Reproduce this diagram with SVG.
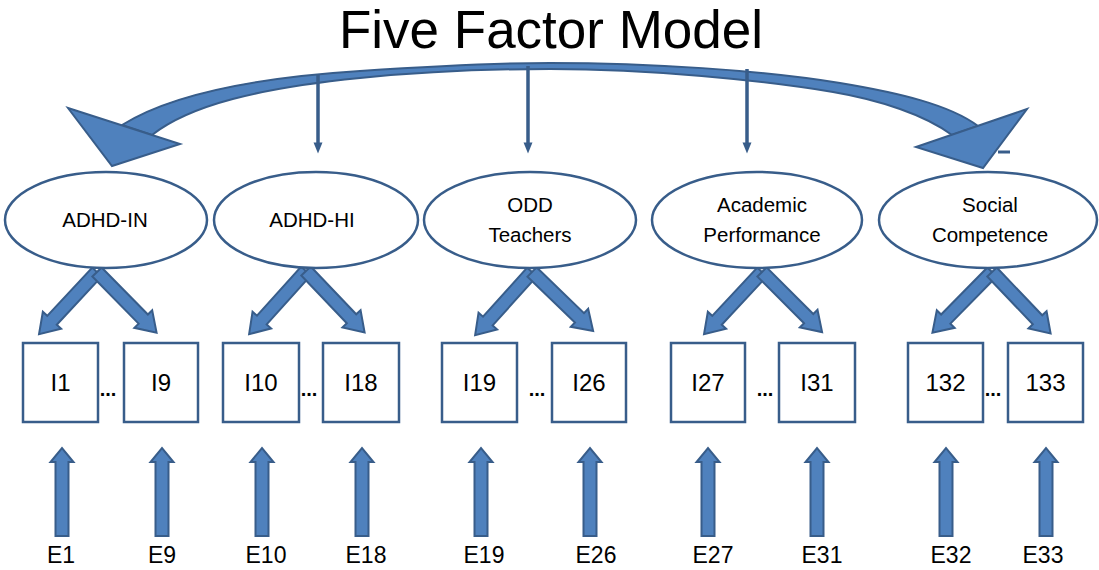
<svg xmlns="http://www.w3.org/2000/svg" xmlns:xlink="http://www.w3.org/1999/xlink" width="1099" height="570" viewBox="0 0 1099 570">
<style>
.bg{fill:#ffffff}
.title{font-family:"Liberation Sans",Arial,sans-serif;font-size:53px;fill:#000000;text-anchor:middle}
.lat{fill:#ffffff;stroke:#385D8A;stroke-width:2.5}
.lt{font-family:"Liberation Sans",Arial,sans-serif;font-size:20.5px;fill:#000000;text-anchor:middle}
.box{fill:#ffffff;stroke:#385D8A;stroke-width:2.5}
.bt{font-family:"Liberation Sans",Arial,sans-serif;font-size:24px;fill:#000000;text-anchor:middle}
.et{font-family:"Liberation Sans",Arial,sans-serif;font-size:23px;fill:#000000;text-anchor:middle}
.dots{font-family:"Liberation Sans",Arial,sans-serif;font-size:20px;font-weight:bold;fill:#000000;text-anchor:middle}
.blk{fill:#4F81BD;stroke:#385D8A;stroke-width:2;stroke-linejoin:miter}
.thin{fill:none;stroke:#385D8A;stroke-width:3.5}
</style>
<defs>
<marker id="sh" viewBox="0 0 10 10" refX="5" refY="5" markerWidth="3.2" markerHeight="3.2" orient="auto" markerUnits="strokeWidth">
<path d="M0,1 L10,5 L0,9 Z" fill="#385D8A"/>
</marker>
<path id="dn" d="M0,-6.5 H66 V-12.5 L85,0 L66,12.5 V6.5 H0 Z"/>
<path id="up" d="M-6.5,0 V-74 H-11.5 L0,-88 L11.5,-74 H6.5 V0 Z"/>
</defs>
<rect class="bg" x="0" y="0" width="1099" height="570"/>
<text class="title" x="551" y="48">Five Factor Model</text>

<g id="connectors">
  <path class="blk" d="M122,125 C170,95 250,78 360,71 C450,65 500,63 550,63 C650,63 760,70 840,83 C900,93 950,105 978,126 L952,135 C925,115 880,100 833,92 C760,80 650,69 550,69 C480,69 420,72 360,78 C260,88 190,105 152,135 Z"/>
  <polygon class="blk" points="68,108 180,144 112,166"/>
  <polygon class="blk" points="916,147 1027,109 983,168"/>
  <line x1="998" y1="152" x2="1010" y2="152" stroke="#385D8A" stroke-width="3"/>
  <line class="thin" x1="318" y1="74" x2="318" y2="148" marker-end="url(#sh)"/>
  <line class="thin" x1="528" y1="66" x2="528" y2="148" marker-end="url(#sh)"/>
  <line class="thin" x1="747" y1="69" x2="747" y2="148" marker-end="url(#sh)"/>

  <use href="#dn" class="blk" transform="translate(97,272) rotate(133)"/>
  <use href="#dn" class="blk" transform="translate(97,272) rotate(45.5)"/>
  <use href="#dn" class="blk" transform="translate(306,271) rotate(132)"/>
  <use href="#dn" class="blk" transform="translate(306,271) rotate(46.4)"/>
  <use href="#dn" class="blk" transform="translate(532,272) rotate(132)"/>
  <use href="#dn" class="blk" transform="translate(532,272) rotate(44)"/>
  <use href="#dn" class="blk" transform="translate(762,272) rotate(133)"/>
  <use href="#dn" class="blk" transform="translate(762,272) rotate(45)"/>
  <use href="#dn" class="blk" transform="translate(992,272) rotate(134.5)"/>
  <use href="#dn" class="blk" transform="translate(992,272) rotate(46.4)"/>

  <use href="#up" class="blk" transform="translate(62,536)"/>
  <use href="#up" class="blk" transform="translate(162,536)"/>
  <use href="#up" class="blk" transform="translate(262,536)"/>
  <use href="#up" class="blk" transform="translate(362,536)"/>
  <use href="#up" class="blk" transform="translate(481,536)"/>
  <use href="#up" class="blk" transform="translate(590,536)"/>
  <use href="#up" class="blk" transform="translate(708,536)"/>
  <use href="#up" class="blk" transform="translate(817,536)"/>
  <use href="#up" class="blk" transform="translate(946,536)"/>
  <use href="#up" class="blk" transform="translate(1046,536)"/>
</g>

<g id="adhd-in"><ellipse class="lat" cx="106" cy="220" rx="101" ry="48"/><text class="lt" x="105" y="227">ADHD-IN</text></g>
<g id="adhd-hi"><ellipse class="lat" cx="316" cy="220" rx="102" ry="48"/><text class="lt" x="312" y="227">ADHD-HI</text></g>
<g id="odd"><ellipse class="lat" cx="530" cy="220" rx="106" ry="48"/><text class="lt" x="530" y="212">ODD</text><text class="lt" x="530" y="242">Teachers</text></g>
<g id="academic"><ellipse class="lat" cx="757" cy="220" rx="105" ry="48"/><text class="lt" x="762" y="212">Academic</text><text class="lt" x="762" y="242">Performance</text></g>
<g id="social"><ellipse class="lat" cx="988" cy="220" rx="109" ry="48"/><text class="lt" x="990" y="212">Social</text><text class="lt" x="990" y="242">Competence</text></g>

<g id="i1"><rect class="box" x="23" y="343" width="75" height="79"/><text class="bt" x="60.5" y="391">I1</text></g>
<g id="i9"><rect class="box" x="124" y="343" width="74" height="79"/><text class="bt" x="161" y="391">I9</text></g>
<g id="i10"><rect class="box" x="223" y="343" width="76" height="79"/><text class="bt" x="261" y="391">I10</text></g>
<g id="i18"><rect class="box" x="323" y="343" width="76" height="79"/><text class="bt" x="361" y="391">I18</text></g>
<g id="i19"><rect class="box" x="442" y="343" width="75" height="79"/><text class="bt" x="479.5" y="391">I19</text></g>
<g id="i26"><rect class="box" x="552" y="343" width="74" height="79"/><text class="bt" x="589" y="391">I26</text></g>
<g id="i27"><rect class="box" x="671" y="343" width="74" height="79"/><text class="bt" x="708" y="391">I27</text></g>
<g id="i31"><rect class="box" x="779" y="343" width="76" height="79"/><text class="bt" x="817" y="391">I31</text></g>
<g id="i32"><rect class="box" x="908" y="343" width="75" height="79"/><text class="bt" x="945.5" y="391">132</text></g>
<g id="i33"><rect class="box" x="1008" y="343" width="75" height="79"/><text class="bt" x="1045.5" y="391">133</text></g>

<g id="ellipses-dots">
<text class="dots" x="108" y="396">...</text>
<text class="dots" x="309" y="396">...</text>
<text class="dots" x="537" y="396">...</text>
<text class="dots" x="765" y="396">...</text>
<text class="dots" x="993" y="396">...</text>
</g>

<g id="errors">
<text class="et" x="61" y="563">E1</text>
<text class="et" x="162" y="563">E9</text>
<text class="et" x="266" y="563">E10</text>
<text class="et" x="366" y="563">E18</text>
<text class="et" x="484" y="563">E19</text>
<text class="et" x="596" y="563">E26</text>
<text class="et" x="713" y="563">E27</text>
<text class="et" x="822" y="563">E31</text>
<text class="et" x="951" y="563">E32</text>
<text class="et" x="1043" y="563">E33</text>
</g>
</svg>
